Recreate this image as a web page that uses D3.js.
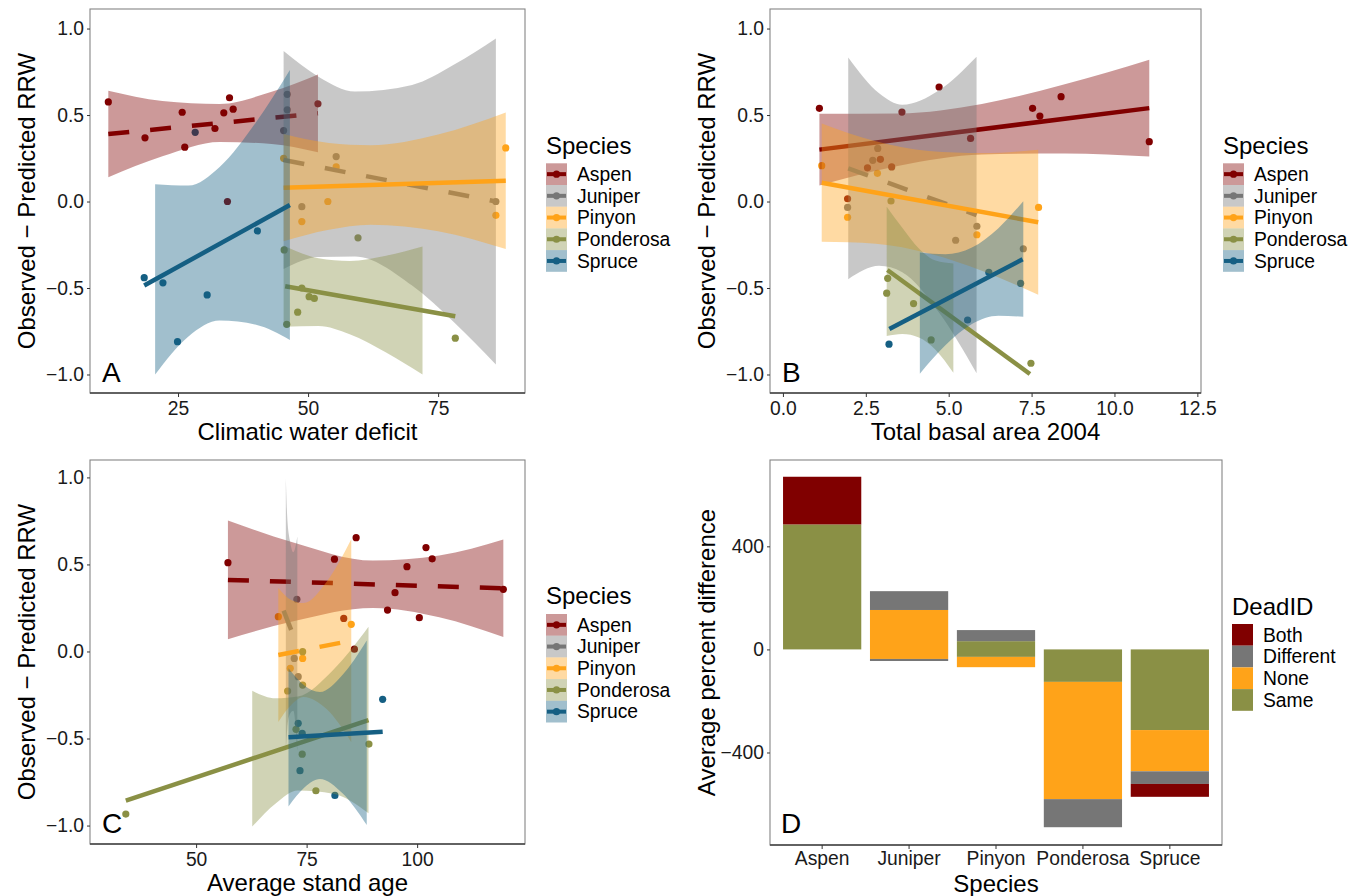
<!DOCTYPE html>
<html>
<head>
<meta charset="utf-8">
<script src="https://cdn.jsdelivr.net/npm/d3@7"></script>
<style>
  body { margin: 0; background: #fff; }
  text { font-family: "Liberation Sans", Arial, Helvetica, sans-serif; }
</style>
</head>
<body>
<svg id="chart" width="1362" height="896"></svg>
<script>
// species and colours
const species = ["Aspen", "Juniper", "Pinyon", "Ponderosa", "Spruce"];
const speciesColors = ["#800000", "#767676", "#FFA319", "#8A9045", "#155F83"];

// panel A : climatic water deficit   [species, x, y]
const pointsA = [
  ["Aspen", 11.6, 0.576], ["Aspen", 18.65, 0.368], ["Aspen", 25.8, 0.516], ["Aspen", 26.3, 0.314],
  ["Aspen", 32.1, 0.422], ["Aspen", 33.8, 0.513], ["Aspen", 34.9, 0.60], ["Aspen", 35.6, 0.534],
  ["Aspen", 34.5, 0.0], ["Aspen", 51.9, 0.565],
  ["Juniper", 46.0, 0.62], ["Juniper", 46.0, 0.53], ["Juniper", 45.3, 0.41], ["Juniper", 55.4, 0.26],
  ["Juniper", 48.8, -0.03], ["Juniper", 86.1, 0.0],
  ["Pinyon", 45.3, 0.25], ["Pinyon", 55.4, 0.20], ["Pinyon", 53.8, 0.0], ["Pinyon", 48.8, -0.116],
  ["Pinyon", 86.1, -0.08], ["Pinyon", 88.0, 0.31],
  ["Ponderosa", 59.6, -0.21], ["Ponderosa", 45.4, -0.28], ["Ponderosa", 48.8, -0.50], ["Ponderosa", 50.2, -0.55],
  ["Ponderosa", 51.2, -0.56], ["Ponderosa", 48.0, -0.64], ["Ponderosa", 45.9, -0.71], ["Ponderosa", 78.3, -0.79],
  ["Spruce", 18.5, -0.44], ["Spruce", 22.1, -0.47], ["Spruce", 24.9, -0.81], ["Spruce", 28.3, 0.40],
  ["Spruce", 30.6, -0.54], ["Spruce", 40.25, -0.17]
];
// fitted lines [species, x0, y0, x1, y1, dashed]
const fitsA = [
  ["Aspen", 11.6, 0.39, 51.9, 0.51, true],
  ["Juniper", 45.3, 0.24, 86.1, 0.0, true],
  ["Pinyon", 45.3, 0.08, 88.0, 0.12, false],
  ["Ponderosa", 45.6, -0.49, 78.3, -0.663, false],
  ["Spruce", 18.5, -0.486, 46.5, -0.02, false]
];
// confidence bands [species, [[x, lower, upper], ...]]
const bandsA = [
  ["Aspen", [[11.6, 0.14, 0.64], [22, 0.261, 0.581], [33, 0.344, 0.564], [43, 0.333, 0.635], [51.9, 0.285, 0.735]]],
  ["Juniper", [[45.3, -0.39, 0.87], [52, -0.321, 0.722], [59, -0.318, 0.636], [70, -0.486, 0.674], [78, -0.696, 0.79], [86.1, -0.942, 0.942]]],
  ["Pinyon", [[45.3, -0.23, 0.39], [54, -0.163, 0.339], [62, -0.134, 0.326], [75, -0.172, 0.388], [88, -0.275, 0.515]]],
  ["Ponderosa", [[45.3, -0.724, -0.254], [52, -0.72, -0.328], [58, -0.768, -0.344], [65, -0.873, -0.313], [72, -1.0, -0.26]]],
  ["Spruce", [[20.6, -1.0, 0.1], [27, -0.78, 0.092], [33, -0.688, 0.2], [40, -0.712, 0.458], [46.5, -0.8, 0.76]]]
];

// panel B : total basal area 2004
const pointsB = [
  ["Aspen", 1.10, 0.539], ["Aspen", 4.71, 0.662], ["Aspen", 3.59, 0.517], ["Aspen", 5.66, 0.365],
  ["Aspen", 7.53, 0.539], ["Aspen", 7.75, 0.494], ["Aspen", 8.39, 0.606], ["Aspen", 11.05, 0.346],
  ["Aspen", 2.94, 0.244], ["Aspen", 2.55, 0.195], ["Aspen", 3.28, 0.2], ["Aspen", 1.95, 0.016],
  ["Juniper", 2.86, 0.307], ["Juniper", 2.71, 0.238], ["Juniper", 1.95, -0.034], ["Juniper", 5.85, -0.143],
  ["Juniper", 5.21, -0.224], ["Juniper", 7.25, -0.273],
  ["Pinyon", 1.17, 0.207], ["Pinyon", 2.85, 0.163], ["Pinyon", 1.95, -0.091], ["Pinyon", 7.71, -0.034],
  ["Pinyon", 5.85, -0.192],
  ["Ponderosa", 3.26, 0.003], ["Ponderosa", 3.16, -0.444], ["Ponderosa", 3.13, -0.53], ["Ponderosa", 3.94, -0.59],
  ["Ponderosa", 4.47, -0.8], ["Ponderosa", 7.48, -0.935],
  ["Spruce", 3.2, -0.825], ["Spruce", 5.57, -0.685], ["Spruce", 6.21, -0.41], ["Spruce", 7.17, -0.473]
];
const fitsB = [
  ["Aspen", 1.10, 0.30, 11.05, 0.54, false],
  ["Juniper", 1.97, 0.192, 5.84, -0.078, true],
  ["Pinyon", 1.17, 0.109, 7.70, -0.12, false],
  ["Ponderosa", 3.15, -0.396, 7.45, -0.997, false],
  ["Spruce", 3.21, -0.737, 7.23, -0.334, false]
];
const bandsB = [
  ["Aspen", [[1.1, 0.093, 0.507], [3.5, 0.207, 0.509], [6, 0.272, 0.564], [8.5, 0.278, 0.678], [11.05, 0.26, 0.82]]],
  ["Juniper", [[1.97, -0.449, 0.833], [2.9, -0.372, 0.626], [3.6, -0.409, 0.56], [4.7, -0.64, 0.642], [5.84, -0.993, 0.837]]],
  ["Pinyon", [[1.17, -0.233, 0.451], [2.8, -0.244, 0.348], [4.4, -0.3, 0.292], [6, -0.4, 0.28], [7.7, -0.539, 0.299]]],
  ["Ponderosa", [[3.13, -0.778, -0.03], [3.6, -0.766, -0.152], [4.1, -0.786, -0.272], [4.6, -0.857, -0.341], [5.14, -0.99, -0.358]]],
  ["Spruce", [[4.13, -0.995, -0.295], [4.9, -0.831, -0.305], [5.7, -0.708, -0.266], [6.5, -0.66, -0.154], [7.25, -0.666, 0.002]]]
];

// panel C : average stand age
const pointsC = [
  ["Aspen", 57.2, 0.51], ["Aspen", 81.3, 0.53], ["Aspen", 86.2, 0.654], ["Aspen", 97.7, 0.487],
  ["Aspen", 102, 0.597], ["Aspen", 103.4, 0.532], ["Aspen", 95, 0.338], ["Aspen", 93.3, 0.238],
  ["Aspen", 100.5, 0.194], ["Aspen", 119.5, 0.357], ["Aspen", 85.8, 0.013], ["Aspen", 83.4, 0.19],
  ["Juniper", 72.8, 0.3], ["Juniper", 72.2, -0.04], ["Juniper", 73.1, -0.145],
  ["Pinyon", 68.6, 0.2], ["Pinyon", 85.1, 0.156], ["Pinyon", 74.1, -0.04], ["Pinyon", 71.3, -0.097],
  ["Ponderosa", 74.1, -0.001], ["Ponderosa", 74.1, -0.193], ["Ponderosa", 70.7, -0.227], ["Ponderosa", 72.6, -0.447],
  ["Ponderosa", 89.1, -0.532], ["Ponderosa", 74, -0.59], ["Ponderosa", 77.1, -0.80], ["Ponderosa", 34.1, -0.934],
  ["Spruce", 92.2, -0.275], ["Spruce", 73.1, -0.413], ["Spruce", 74, -0.47], ["Spruce", 73.5, -0.685],
  ["Spruce", 81.4, -0.827]
];
const fitsC = [
  ["Aspen", 57.2, 0.411, 119.5, 0.363, true],
  ["Juniper", 69.8, 0.235, 71.5, 0.124, true],
  ["Pinyon", 68.6, -0.02, 85.1, 0.062, true],
  ["Ponderosa", 34.1, -0.857, 89, -0.394, false],
  ["Spruce", 70.9, -0.493, 92.2, -0.461, false]
];
const bandsC = [
  ["Aspen", [[57.2, 0.07, 0.752], [72, 0.174, 0.626], [90, 0.25, 0.522], [105, 0.197, 0.551], [119.5, 0.083, 0.643]]],
  ["Juniper", [[70.3, -0.58, 0.995], [70.6, -0.45, 0.78], [71.2, -0.36, 0.64], [72.0, -0.34, 0.57], [72.9, -0.57, 0.66]]],
  ["Pinyon", [[68.6, -0.405, 0.365], [71.5, -0.308, 0.296], [74.3, -0.262, 0.278], [79.5, -0.331, 0.399], [85.1, -0.521, 0.645]]],
  ["Ponderosa", [[62.7, -1.006, -0.226], [68, -0.873, -0.269], [73, -0.799, -0.259], [81, -0.818, -0.106], [89, -0.93, 0.142]]],
  ["Spruce", [[70.9, -0.89, -0.096], [74.5, -0.781, -0.195], [78, -0.733, -0.233], [83, -0.812, -0.138], [88.6, -0.997, 0.063]]]
];

// panel D : average percent difference, visible stacked segments [species, DeadID, from, to]
const deadLevels = ["Both", "Different", "None", "Same"];
const deadColors = ["#800000", "#767676", "#FFA319", "#8A9045"];
const barSegments = [
  ["Aspen", "Same", 0, 485], ["Aspen", "Both", 485, 670],
  ["Juniper", "None", -37, 153], ["Juniper", "Different", 153, 226], ["Juniper", "Different", -45, -37],
  ["Pinyon", "Same", -29, 32], ["Pinyon", "Different", 32, 75], ["Pinyon", "None", -69, -29],
  ["Ponderosa", "Same", -126, 0], ["Ponderosa", "None", -581, -126], ["Ponderosa", "Different", -690, -581],
  ["Spruce", "Same", -313, 0], ["Spruce", "None", -473, -313], ["Spruce", "Different", -522, -473],
  ["Spruce", "Both", -572, -522]
];

const yTicks = [-1.0, -0.5, 0.0, 0.5, 1.0];
const xTicksA = [25, 50, 75];
const xTicksB = [0, 2.5, 5, 7.5, 10, 12.5];
const xTicksC = [50, 75, 100];
const yTicksD = [-400, 0, 400];

const svg = d3.select("#chart");
const color = d3.scaleOrdinal().domain(species).range(speciesColors);
const deadColor = d3.scaleOrdinal().domain(deadLevels).range(deadColors);
const tickSize = 19.3;
const titleSize = 24;

function styleAxis(ax) {
  ax.select(".domain").remove();
  ax.selectAll("line").attr("stroke", "#333");
  ax.selectAll("text").attr("font-size", tickSize).attr("fill", "#1a1a1a")
    .attr("font-family", '"Liberation Sans", Arial, sans-serif');
}

function frame(g, box) {
  g.append("rect")
    .attr("x", box[0]).attr("y", box[2])
    .attr("width", box[1] - box[0]).attr("height", box[3] - box[2])
    .attr("fill", "none").attr("stroke", "#858585").attr("stroke-width", 1.1);
  g.append("line")
    .attr("x1", box[0]).attr("x2", box[1]).attr("y1", box[3]).attr("y2", box[3])
    .attr("stroke", "#444").attr("stroke-width", 1.5);
}

function scatterPanel(p) {
  const [l, r, t, b] = p.box;
  const x = d3.scaleLinear().domain(p.xDomain).range([l, r]);
  const y = d3.scaleLinear().domain(p.yDomain).range([b, t]);
  const g = svg.append("g");
  const clipId = "clip" + p.letter;
  g.append("clipPath").attr("id", clipId).append("rect")
    .attr("x", l).attr("y", t).attr("width", r - l).attr("height", b - t);
  const plot = g.append("g").attr("clip-path", `url(#${clipId})`);

  plot.append("g").selectAll("circle")
    .data(p.points)
    .join("circle")
    .attr("cx", d => x(d[1]))
    .attr("cy", d => y(d[2]))
    .attr("r", 3.6)
    .attr("fill", d => color(d[0]));

  const area = d3.area()
    .x(d => x(d[0]))
    .y0(d => y(d[1]))
    .y1(d => y(d[2]))
    .curve(d3.curveMonotoneX);

  // ribbon then line, group by group (later ribbons cover earlier lines)
  species.forEach(s => {
    const band = p.bands.find(d => d[0] === s);
    const fit = p.fits.find(d => d[0] === s);
    plot.append("path")
      .attr("d", area(band[1]))
      .attr("fill", color(s))
      .attr("fill-opacity", 0.4);
    plot.append("line")
      .attr("x1", x(fit[1])).attr("y1", y(fit[2]))
      .attr("x2", x(fit[3])).attr("y2", y(fit[4]))
      .attr("stroke", color(s))
      .attr("stroke-width", 4.5)
      .attr("stroke-dasharray", fit[5] ? "21 21" : null);
  });

  frame(g, p.box);

  const xAxis = g.append("g").attr("transform", `translate(0,${b})`)
    .call(d3.axisBottom(x).tickValues(p.xTicks).tickFormat(p.xFormat).tickSize(4).tickSizeOuter(0).tickPadding(4));
  styleAxis(xAxis);
  const yAxis = g.append("g").attr("transform", `translate(${l},0)`)
    .call(d3.axisLeft(y).tickValues(yTicks).tickFormat(d3.format(".1f")).tickSize(3).tickSizeOuter(0).tickPadding(3));
  styleAxis(yAxis);

  g.append("text")
    .attr("x", (l + r) / 2).attr("y", p.xTitleY)
    .attr("text-anchor", "middle").attr("font-size", titleSize)
    .text(p.xTitle);
  g.append("text")
    .attr("transform", `translate(${l - 55},${(t + b) / 2}) rotate(-90)`)
    .attr("text-anchor", "middle").attr("font-size", titleSize)
    .text("Observed \u2212 Predicted RRW");
  g.append("text")
    .attr("x", l + 12).attr("y", b - 11)
    .attr("font-size", 28)
    .text(p.letter);
}

function speciesLegend(x0, titleY, keyTop) {
  const g = svg.append("g");
  const kh = 21.7;
  g.append("text").attr("x", x0).attr("y", titleY).attr("font-size", titleSize).text("Species");
  const item = g.selectAll("g.item").data(species).join("g")
    .attr("class", "item")
    .attr("transform", (d, i) => `translate(${x0},${keyTop + i * kh})`);
  item.append("rect").attr("width", 21).attr("height", kh)
    .attr("fill", d => color(d)).attr("fill-opacity", 0.4);
  item.append("line").attr("x1", 1).attr("x2", 20).attr("y1", kh / 2).attr("y2", kh / 2)
    .attr("stroke", d => color(d)).attr("stroke-width", 4);
  item.append("circle").attr("cx", 10.5).attr("cy", kh / 2).attr("r", 3.6).attr("fill", d => color(d));
  item.append("text").attr("x", 31).attr("y", kh / 2).attr("dy", "0.35em")
    .attr("font-size", tickSize).text(d => d);
}

scatterPanel({
  letter: "A", box: [90, 525, 9, 393],
  xDomain: [8.08, 91.7], yDomain: [-1.107, 1.113],
  xTicks: xTicksA, xFormat: d3.format("d"),
  points: pointsA, fits: fitsA, bands: bandsA,
  xTitle: "Climatic water deficit", xTitleY: 440
});
scatterPanel({
  letter: "B", box: [770, 1201, 9, 393],
  xDomain: [-0.39, 12.61], yDomain: [-1.107, 1.113],
  xTicks: xTicksB, xFormat: d3.format(".1f"),
  points: pointsB, fits: fitsB, bands: bandsB,
  xTitle: "Total basal area 2004", xTitleY: 440
});
scatterPanel({
  letter: "C", box: [90, 525, 460, 844],
  xDomain: [26.0, 124.4], yDomain: [-1.106, 1.1],
  xTicks: xTicksC, xFormat: d3.format("d"),
  points: pointsC, fits: fitsC, bands: bandsC,
  xTitle: "Average stand age", xTitleY: 891
});

speciesLegend(546, 154, 163.3);
speciesLegend(1223, 154, 163.3);
speciesLegend(546, 604, 614);

// panel D : bars
(function barPanel() {
  const box = [770, 1222, 460, 845];
  const g = svg.append("g");
  const x = d3.scaleBand().domain(species).range([box[0], box[1]]).paddingInner(0.1).paddingOuter(0.15);
  const y = d3.scaleLinear().domain([-759, 735]).range([box[3], box[2]]);

  g.append("g").selectAll("rect")
    .data(barSegments)
    .join("rect")
    .attr("x", d => x(d[0]))
    .attr("width", x.bandwidth())
    .attr("y", d => y(d[3]))
    .attr("height", d => y(d[2]) - y(d[3]))
    .attr("fill", d => deadColor(d[1]));

  frame(g, box);

  const xAxis = g.append("g").attr("transform", `translate(0,${box[3]})`)
    .call(d3.axisBottom(x).tickSize(4).tickSizeOuter(0).tickPadding(2));
  styleAxis(xAxis);
  const yAxis = g.append("g").attr("transform", `translate(${box[0]},0)`)
    .call(d3.axisLeft(y).tickValues(yTicksD).tickFormat(d3.format("d")).tickSize(3).tickSizeOuter(0).tickPadding(3));
  styleAxis(yAxis);

  g.append("text").attr("x", (box[0] + box[1]) / 2).attr("y", 892)
    .attr("text-anchor", "middle").attr("font-size", titleSize).text("Species");
  g.append("text")
    .attr("transform", `translate(${box[0] - 55},${(box[2] + box[3]) / 2}) rotate(-90)`)
    .attr("text-anchor", "middle").attr("font-size", titleSize)
    .text("Average percent difference");
  g.append("text").attr("x", box[0] + 11).attr("y", box[3] - 12).attr("font-size", 28).text("D");

  // DeadID legend
  const lx = 1232, kh = 21.7;
  const lg = svg.append("g");
  lg.append("text").attr("x", lx).attr("y", 615).attr("font-size", titleSize).text("DeadID");
  const item = lg.selectAll("g.item").data(deadLevels).join("g")
    .attr("class", "item")
    .attr("transform", (d, i) => `translate(${lx},${624 + i * kh})`);
  item.append("rect").attr("width", 21).attr("height", kh).attr("fill", d => deadColor(d));
  item.append("text").attr("x", 31).attr("y", kh / 2).attr("dy", "0.35em")
    .attr("font-size", tickSize).text(d => d);
})();
</script>
</body>
</html>
